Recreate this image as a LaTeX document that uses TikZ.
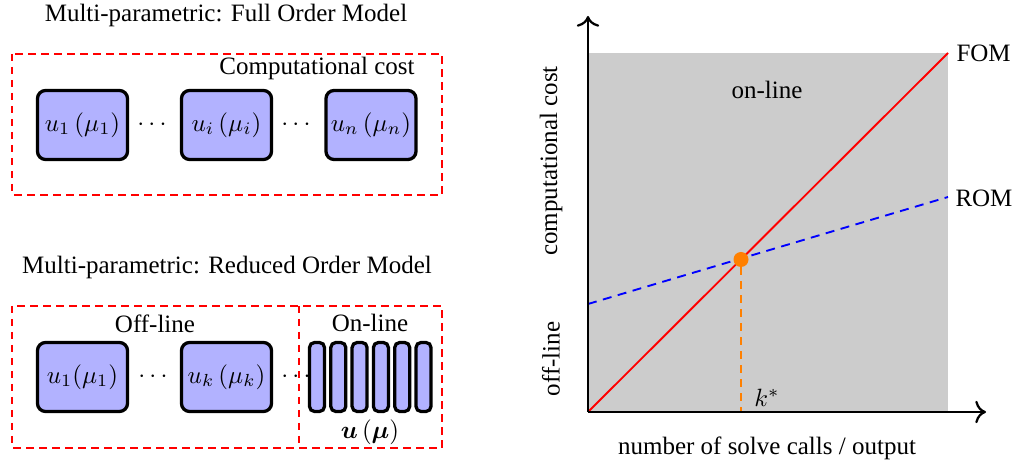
\documentclass[tikz,border=0pt]{standalone}
\usepackage{fontspec}
\setmainfont{Liberation Serif}
\usepackage{bm}
\usetikzlibrary{arrows.meta}
\begin{document}
\begin{tikzpicture}[x=0.4pt,y=-0.4pt,
  ubox/.style={draw, line width=1.3pt, fill=blue!30, rounded corners=3.2pt, minimum width=36pt, minimum height=27.6pt, inner sep=0pt},
  thinbox/.style={draw, line width=1.3pt, fill=blue!30, rounded corners=2pt, minimum width=6pt, minimum height=27.6pt, inner sep=0pt},
  redbox/.style={red, line width=0.9pt, dash pattern=on 3pt off 2.2pt},
  lbl/.style={inner sep=0pt},
  axis/.style={line width=0.9pt, -{To[scale=1.2]}},
  curve/.style={line width=0.75pt}]
\useasboundingbox (0,0) rectangle (1015,465);

% ---------- Full order model ----------
\node[lbl] (t1) at (226,15) {Multi-parametric: Full Order Model};
\draw[redbox] (12,54) rectangle (442,195);
\node[lbl, anchor=east] (cc) at (415,68) {Computational cost};
\node[ubox] (f1) at (82.5,125) {$u_1\left(\mu_1\right)$};
\node[lbl] (fd1) at (152,125) {$\cdots$};
\node[ubox] (fi) at (226.5,125) {$u_i\left(\mu_i\right)$};
\node[lbl] (fd2) at (296,125) {$\cdots$};
\node[ubox] (fn) at (371,125) {$u_n\left(\mu_n\right)$};

% ---------- Reduced order model ----------
\node[lbl] (t2) at (227,267) {Multi-parametric: Reduced Order Model};
\draw[redbox] (12,306) rectangle (442,448);
\draw[redbox] (299,306) -- (299,448);
\node[lbl] (off) at (155,324) {Off-line};
\node[lbl] (on) at (370,323) {On-line};
\node[ubox] (r1) at (82.5,377) {$u_1(\mu_1)$};
\node[lbl] (rd1) at (153,377) {$\cdots$};
\node[ubox] (rk) at (226.5,377) {$u_k\left(\mu_k\right)$};
\node[lbl] (rd2) at (296,377) {$\cdots$};
\foreach \i in {0,...,5}{
  \node[thinbox] (s\i) at (317+21.3*\i,377) {};
}
\node[lbl] (umu) at (370,432) {$\bm{u}\left(\bm{\mu}\right)$};

% ---------- Chart ----------
\coordinate (O) at (588,412);
\coordinate (F) at (948,53);
\coordinate (R0) at (588,304);
\coordinate (R1) at (948,197);
\coordinate (K) at (741,412);
\fill[gray!40] (O) rectangle (F);
\draw[curve, red] (O) -- (F);
\draw[curve, blue, dash pattern=on 3.6pt off 2.6pt] (R0) -- (R1);
\node[circle, fill=orange, inner sep=0pt, minimum size=6pt] (X) at (741,259.5) {};
\draw[curve, orange, dash pattern=on 3.2pt off 2.4pt] (X) -- (K);
\draw[axis] (O) -- (588,16);
\draw[axis] (O) -- (986,412);
\node[lbl, anchor=west] (fom) at (956,53) {FOM};
\node[lbl, anchor=west] (rom) at (955,198) {ROM};
\node[lbl] (onl) at (767,90) {on-line};
\node[lbl, rotate=90] (cy) at (551,161) {computational cost};
\node[lbl, rotate=90] (offl) at (551,359) {off-line};
\node[lbl] (ks) at (767,398) {$k^*$};
\node[lbl] (xl) at (767,448) {number of solve calls / output};
\end{tikzpicture}
\end{document}
